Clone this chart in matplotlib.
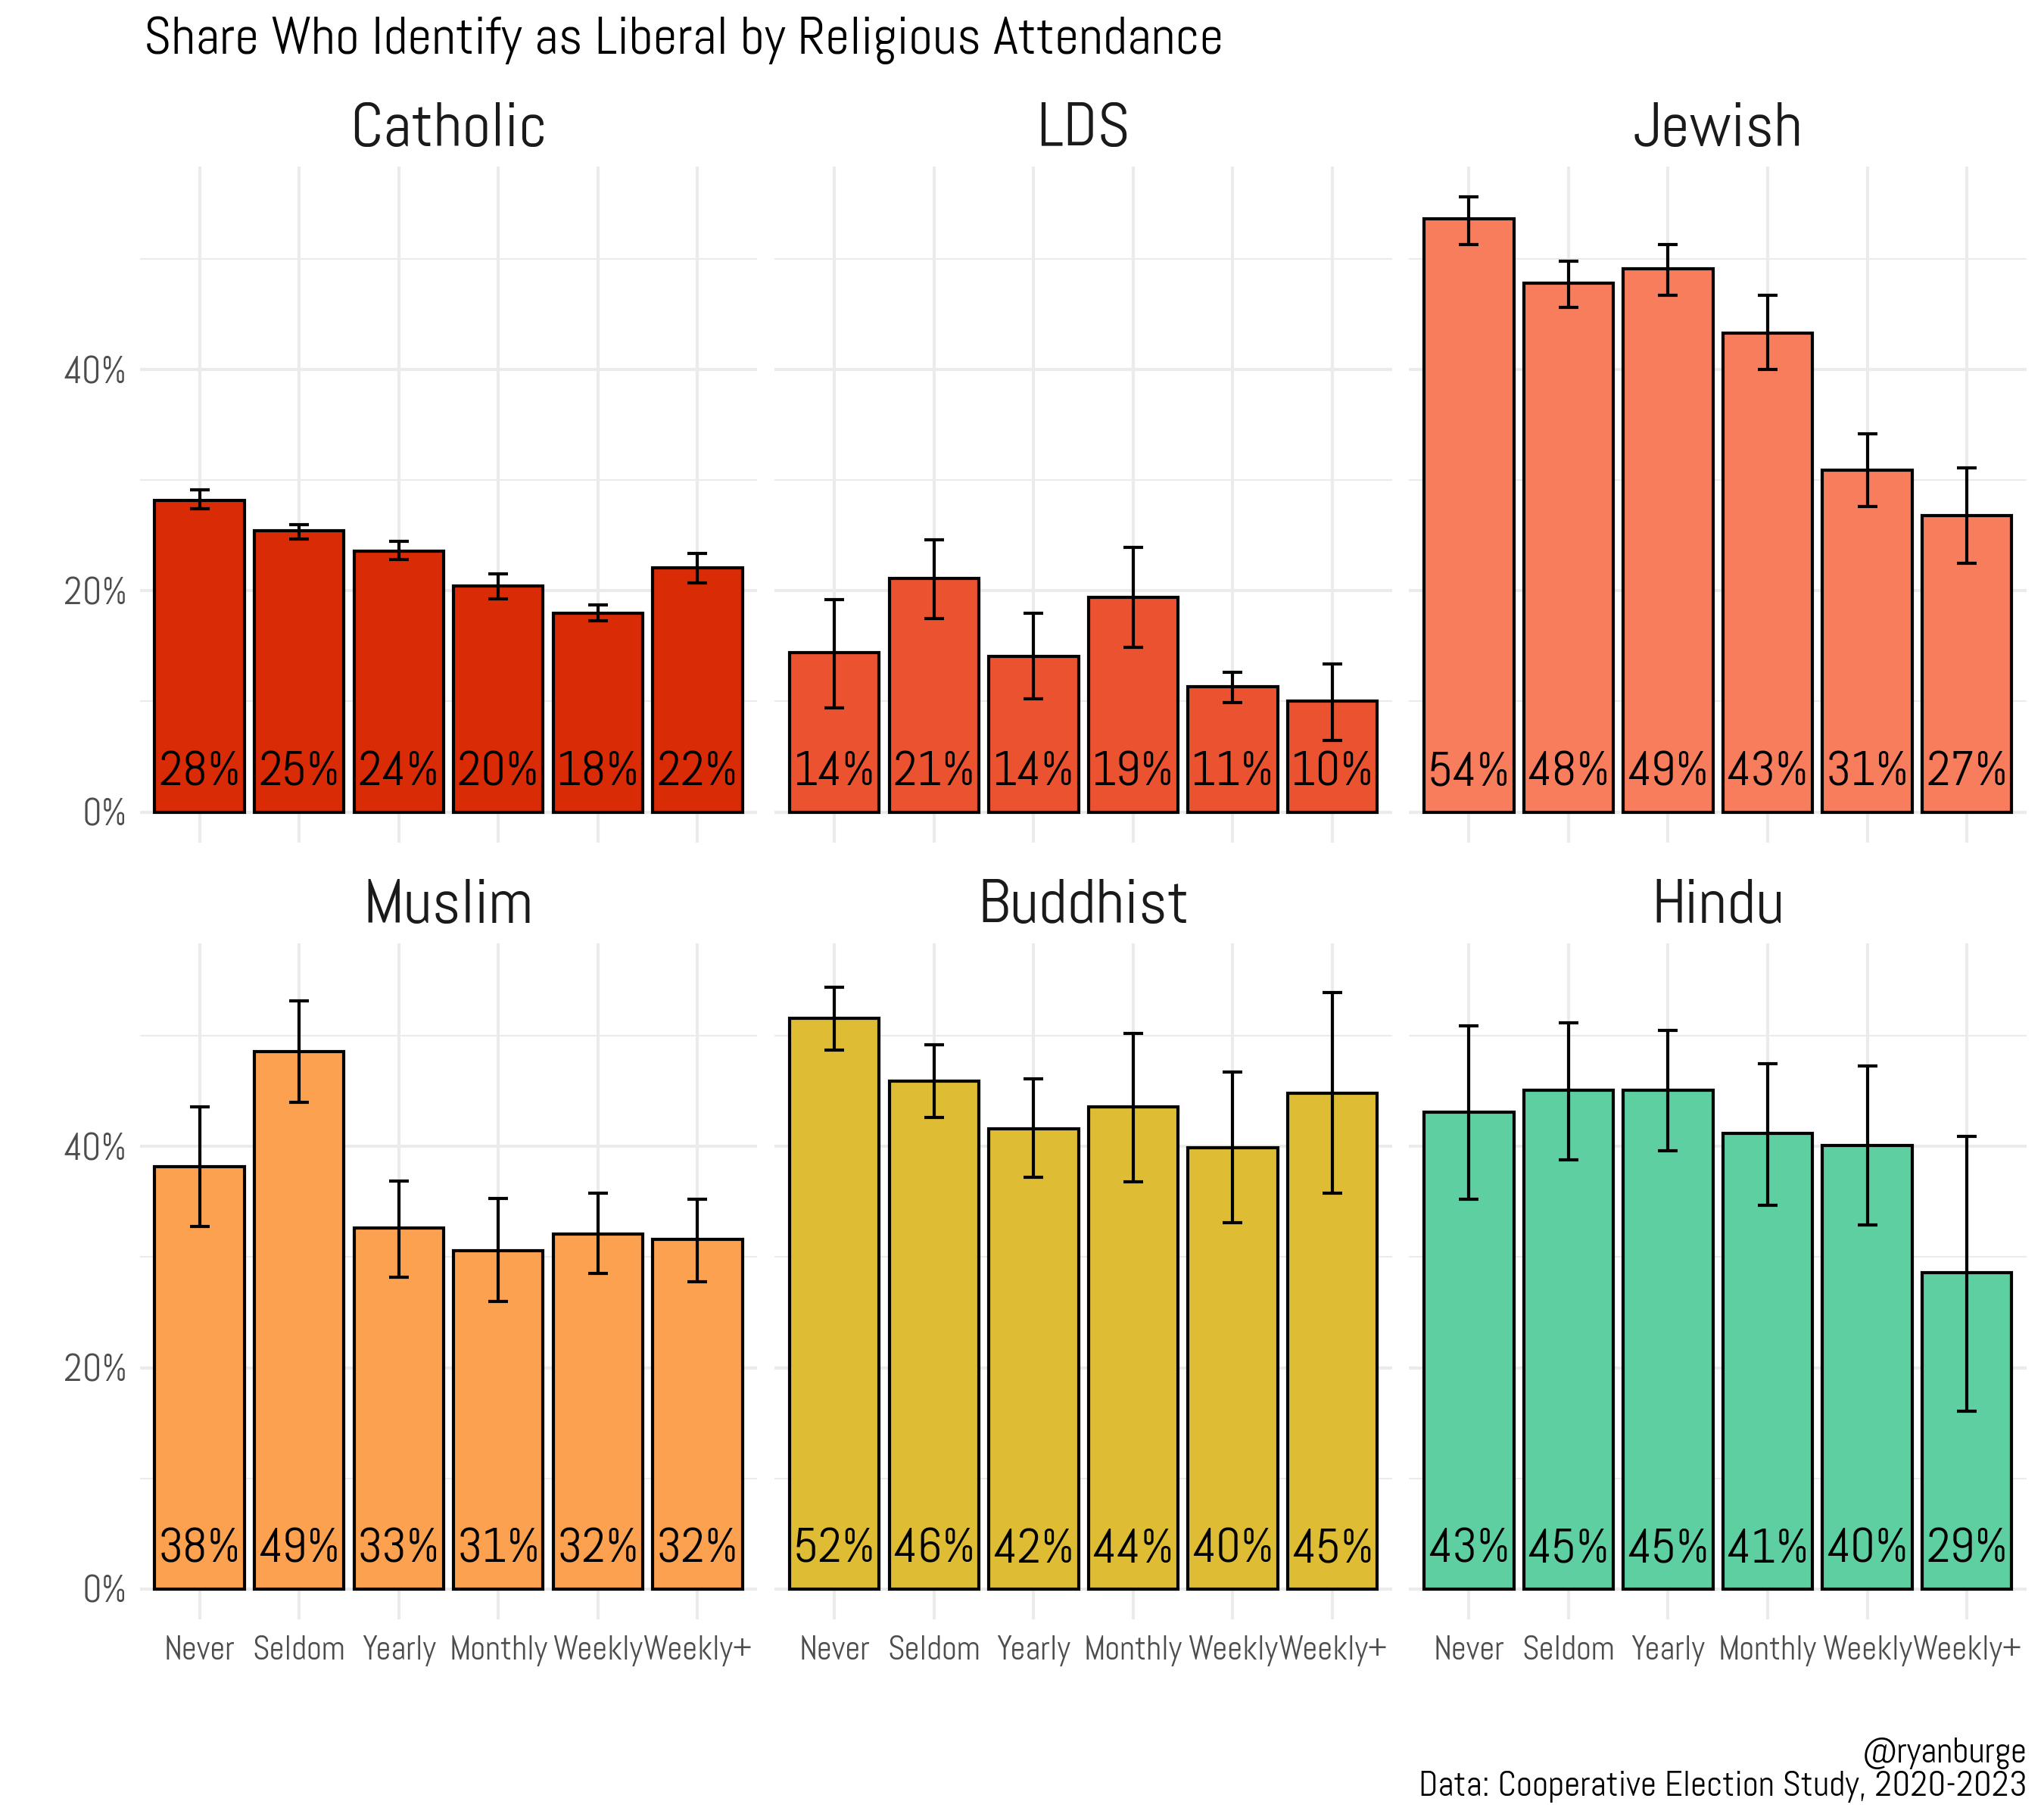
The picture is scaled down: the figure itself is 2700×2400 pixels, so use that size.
import matplotlib
matplotlib.use("Agg")
import matplotlib.pyplot as plt
from matplotlib.ticker import FixedLocator, FuncFormatter
import numpy as np

# ---------------- data ----------------
attendance = ["Never", "Seldom", "Yearly", "Monthly", "Weekly", "Weekly+"]
religions = ["Catholic", "LDS", "Jewish", "Muslim", "Buddhist", "Hindu"]

catholic = [28.2, 25.4, 23.6, 20.4, 18.0, 22.1]
catholic_lo = [27.4, 24.7, 22.8, 19.3, 17.3, 20.7]
catholic_hi = [29.1, 26.0, 24.5, 21.5, 18.7, 23.4]

lds = [14.4, 21.1, 14.1, 19.4, 11.3, 10.0]
lds_lo = [9.4, 17.5, 10.2, 14.9, 9.9, 6.5]
lds_hi = [19.2, 24.6, 18.0, 23.9, 12.6, 13.4]

jewish = [53.6, 47.8, 49.1, 43.3, 30.9, 26.8]
jewish_lo = [51.3, 45.6, 46.7, 40.0, 27.6, 22.5]
jewish_hi = [55.6, 49.8, 51.3, 46.7, 34.2, 31.1]

muslim = [38.2, 48.6, 32.6, 30.6, 32.1, 31.6]
muslim_lo = [32.8, 44.0, 28.2, 26.0, 28.5, 27.8]
muslim_hi = [43.6, 53.2, 36.9, 35.3, 35.8, 35.2]

buddhist = [51.6, 45.9, 41.6, 43.6, 39.9, 44.8]
buddhist_lo = [48.7, 42.6, 37.2, 36.8, 33.1, 35.8]
buddhist_hi = [54.4, 49.2, 46.1, 50.2, 46.7, 53.9]

hindu = [43.1, 45.1, 45.1, 41.2, 40.1, 28.6]
hindu_lo = [35.2, 38.8, 39.6, 34.7, 32.9, 16.1]
hindu_hi = [50.9, 51.2, 50.5, 47.5, 47.3, 40.9]

colors = ["#D92B05", "#EB5230", "#F77D5D", "#FCA14F", "#DEBD35", "#5ECFA0"]

title = "Share Who Identify as Liberal by Religious Attendance"
caption = "@ryanburge\nData: Cooperative Election Study, 2020-2023"

series = [
    (catholic, catholic_lo, catholic_hi),
    (lds, lds_lo, lds_hi),
    (jewish, jewish_lo, jewish_hi),
    (muslim, muslim_lo, muslim_hi),
    (buddhist, buddhist_lo, buddhist_hi),
    (hindu, hindu_lo, hindu_hi),
]

# ---------------- style ----------------
FONT = ["Abel", "DejaVu Sans"]
plt.rcParams["font.family"] = FONT

fig = plt.figure(figsize=(9, 8), dpi=300)
fig.patch.set_facecolor("white")

col_left = [0.0684, 0.3790, 0.6894]
col_w = 0.3021
row_bottom = [0.5362, 0.1086]
row_h = 0.3723

ymax = max(max(s[2]) for s in series)
ylo, yhi = -0.05 * ymax, ymax * 1.05

x = np.arange(len(attendance))
for i, (rel, (vals, lo, hi), col) in enumerate(zip(religions, series, colors)):
    r, c = divmod(i, 3)
    ax = fig.add_axes([col_left[c], row_bottom[r], col_w, row_h])
    ax.set_facecolor("white")
    for sp in ax.spines.values():
        sp.set_visible(False)
    ax.set_xlim(-0.6, len(attendance) - 0.4)
    ax.set_ylim(ylo, yhi)
    ax.yaxis.set_major_locator(FixedLocator([0, 20, 40]))
    ax.yaxis.set_minor_locator(FixedLocator([10, 30, 50]))
    ax.set_xticks(x)
    ax.grid(which="major", axis="both", color="#EBEBEB", linewidth=1.0, zorder=0)
    ax.grid(which="minor", axis="y", color="#EBEBEB", linewidth=0.5, zorder=0)
    ax.set_axisbelow(True)
    ax.tick_params(which="both", length=0)

    vals = np.array(vals)
    lo = np.array(lo)
    hi = np.array(hi)
    ax.bar(x, vals, width=0.9, color=col, edgecolor="black", linewidth=1.0, zorder=2)
    ax.errorbar(x, vals, yerr=[vals - lo, hi - vals], fmt="none", ecolor="black",
                elinewidth=1.0, capsize=3.2, capthick=1.0, zorder=3)
    for xi, v in zip(x, vals):
        ax.text(xi, 3.5, f"{int(v + 0.5)}%", ha="center", va="center",
                fontsize=15.5, color="black", family=FONT, zorder=4)

    ax.set_title(rel, fontsize=20, pad=6.5, family=FONT, color="#1A1A1A")

    if c == 0:
        ax.yaxis.set_major_formatter(FuncFormatter(lambda v, p: f"{int(v)}%"))
        ax.tick_params(axis="y", labelsize=12, labelcolor="#4D4D4D", pad=4)
    else:
        ax.set_yticklabels([])
    if r == 1:
        ax.set_xticklabels(attendance)
        ax.tick_params(axis="x", labelsize=10.5, labelcolor="#4D4D4D", pad=5)
    else:
        ax.set_xticklabels([])

fig.text(0.0702, 0.978, title, ha="left", va="center", fontsize=16.8, family=FONT, color="black")
fig.text(0.9917, 0.008, caption, ha="right", va="bottom", fontsize=11.2, family=FONT,
         color="black", linespacing=1.05)

fig.savefig("out.png", dpi=300, facecolor="white")
